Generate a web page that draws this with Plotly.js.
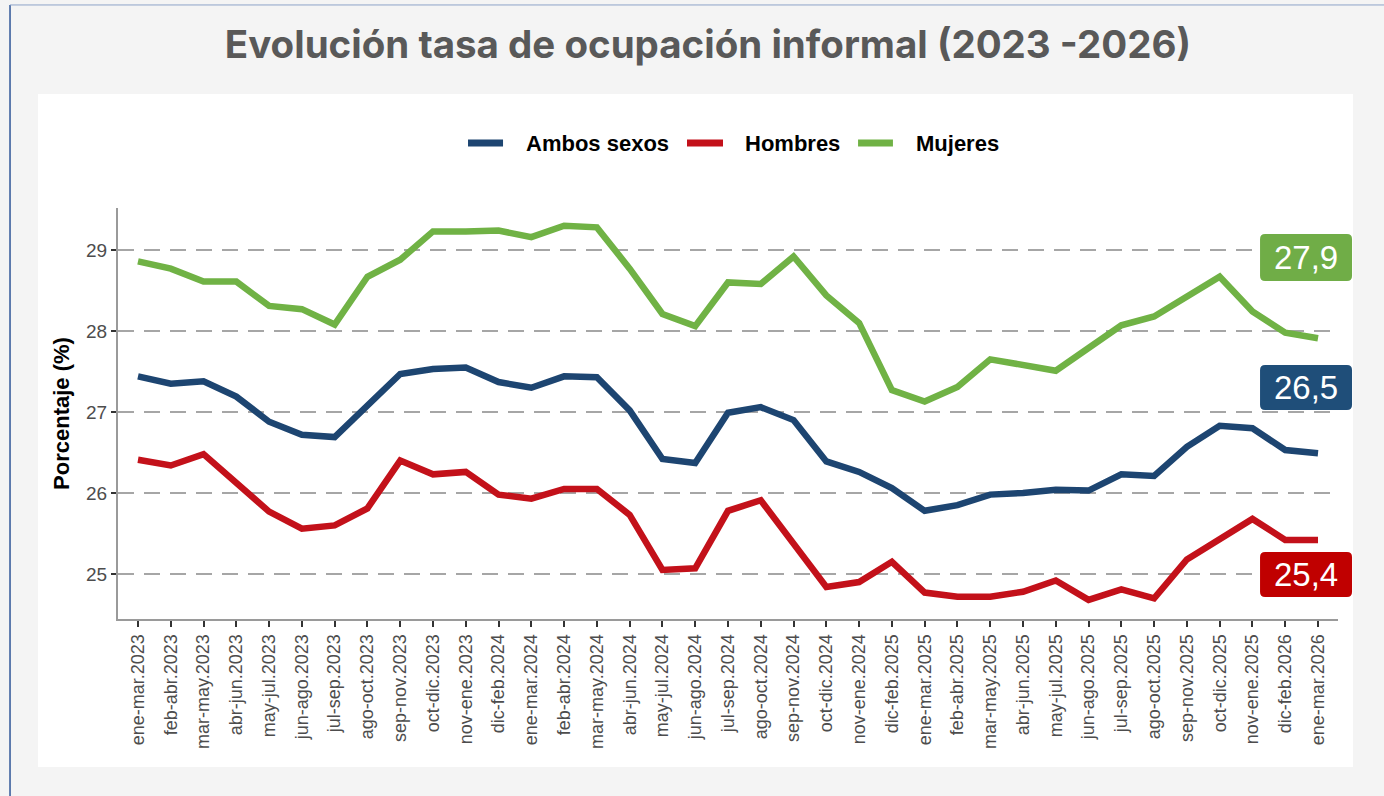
<!DOCTYPE html>
<html>
<head>
<meta charset="utf-8">
<script src="https://cdn.plot.ly/plotly-3.0.1.min.js"></script>
<style>
  html, body { margin: 0; padding: 0; background: #f4f4f4; }
  #chart { width: 1384px; height: 796px; }
</style>
</head>
<body>
<div id="chart"></div>
<script>
const periods = [
  "ene-mar.2023","feb-abr.2023","mar-may.2023","abr-jun.2023","may-jul.2023","jun-ago.2023",
  "jul-sep.2023","ago-oct.2023","sep-nov.2023","oct-dic.2023","nov-ene.2023","dic-feb.2024",
  "ene-mar.2024","feb-abr.2024","mar-may.2024","abr-jun.2024","may-jul.2024","jun-ago.2024",
  "jul-sep.2024","ago-oct.2024","sep-nov.2024","oct-dic.2024","nov-ene.2024","dic-feb.2025",
  "ene-mar.2025","feb-abr.2025","mar-may.2025","abr-jun.2025","may-jul.2025","jun-ago.2025",
  "jul-sep.2025","ago-oct.2025","sep-nov.2025","oct-dic.2025","nov-ene.2025","dic-feb.2026",
  "ene-mar.2026"
];

const ambosSexos = [
  27.44,27.35,27.38,27.19,26.88,26.72,26.69,27.09,27.47,27.53,27.55,27.37,
  27.30,27.44,27.43,27.02,26.42,26.37,26.99,27.06,26.90,26.39,26.26,26.06,
  25.78,25.85,25.98,26.00,26.04,26.03,26.23,26.21,26.57,26.83,26.80,26.53,
  26.49
];

const hombres = [
  26.41,26.34,26.48,26.12,25.77,25.56,25.60,25.81,26.40,26.23,26.26,25.98,
  25.93,26.05,26.05,25.73,25.05,25.07,25.78,25.91,25.38,24.84,24.90,25.15,
  24.77,24.72,24.72,24.78,24.92,24.68,24.81,24.70,25.18,25.42,25.68,25.42,
  25.42
];

const mujeres = [
  28.86,28.77,28.61,28.61,28.31,28.27,28.08,28.67,28.88,29.23,29.23,29.24,
  29.16,29.30,29.28,28.77,28.21,28.06,28.60,28.58,28.92,28.44,28.10,27.27,
  27.13,27.31,27.65,27.58,27.51,27.79,28.07,28.18,28.42,28.67,28.24,27.98,
  27.91
];

const seriesNames = ["Ambos sexos", "Hombres", "Mujeres"];
const seriesColors = ["#1d4571", "#c3111a", "#70b245"];
const labelColors = ["#1f4e79", "#c00000", "#70ad47"];
const yTicks = [25, 26, 27, 28, 29];

const allSeries = [ambosSexos, hombres, mujeres];

const traces = allSeries.map((vals, k) => ({
  type: "scatter",
  mode: "lines",
  name: seriesNames[k],
  x: periods,
  y: vals,
  line: { color: seriesColors[k], width: 6.5 },
  showlegend: false,
  hoverinfo: "x+y+name"
}));

function fmt(v) { return v.toFixed(1).replace(".", ","); }

// ---- layout helpers (paper coordinates) ----
const tickFont = "Liberation Sans, Arial, sans-serif";

// manual legend: swatch [x0,x1], text left x, all at legend y
const legY = 1.158;
const legSw = [[0.2869, 0.3156], [0.4664, 0.4959], [0.6066, 0.6352]];
const legTx = [0.3328, 0.5123, 0.6525];

// end-label boxes: [y0, y1] in paper coords
const boxX = [0.9361, 1.0115];
const boxY = [[0.5085, 0.6180], [0.0535, 0.1630], [0.8224, 0.9367]];
const rx = 5 / 1220, ry = 5 / 411;

function roundRect(x0, x1, y0, y1) {
  return `M${x0 + rx},${y0} L${x1 - rx},${y0} Q${x1},${y0} ${x1},${y0 + ry} ` +
         `L${x1},${y1 - ry} Q${x1},${y1} ${x1 - rx},${y1} L${x0 + rx},${y1} ` +
         `Q${x0},${y1} ${x0},${y1 - ry} L${x0},${y0 + ry} Q${x0},${y0} ${x0 + rx},${y0} Z`;
}

const shapes = [
  // white panel
  { type: "rect", xref: "paper", yref: "paper", layer: "below",
    x0: -0.0656, x1: 1.0123, y0: -0.360, y1: 1.2774,
    fillcolor: "#ffffff", line: { width: 0 } },
  // left border line
  { type: "line", xref: "paper", yref: "paper", layer: "below",
    x0: -0.0885, x1: -0.0885, y0: -0.45, y1: 1.494,
    line: { color: "#2f5597", width: 1.5 } },
  // top border line
  { type: "line", xref: "paper", yref: "paper", layer: "below",
    x0: -0.0885, x1: 1.05, y0: 1.494, y1: 1.494,
    line: { color: "#8ea3c8", width: 1 } }
];

const annotations = [];

allSeries.forEach((vals, k) => {
  // legend swatch + text
  shapes.push({ type: "line", xref: "paper", yref: "paper",
    x0: legSw[k][0], x1: legSw[k][1], y0: legY, y1: legY,
    line: { color: seriesColors[k], width: 7 } });
  annotations.push({ xref: "paper", yref: "paper", x: legTx[k], y: legY,
    xanchor: "left", yanchor: "middle", showarrow: false,
    text: "<b>" + seriesNames[k] + "</b>",
    font: { family: tickFont, size: 22, color: "#000000" } });
  // end label box
  shapes.push({ type: "path", xref: "paper", yref: "paper",
    path: roundRect(boxX[0], boxX[1], boxY[k][0], boxY[k][1]),
    fillcolor: labelColors[k], line: { width: 0 } });
  annotations.push({ xref: "paper", yref: "paper",
    x: (boxX[0] + boxX[1]) / 2, y: (boxY[k][0] + boxY[k][1]) / 2,
    xanchor: "center", yanchor: "middle", showarrow: false,
    text: fmt(vals[vals.length - 1]),
    font: { family: tickFont, size: 33, color: "#ffffff" } });
});

const layout = {
  width: 1384,
  height: 796,
  margin: { l: 118, r: 46, t: 208, b: 177, pad: 0 },
  paper_bgcolor: "#f4f4f4",
  plot_bgcolor: "rgba(0,0,0,0)",
  title: {
    text: "<b>Evolución tasa de ocupación informal (2023 -2026)</b>",
    font: { family: "Inter, Open Sans, sans-serif", size: 38.5, color: "#595959" },
    x: 0.5115, xanchor: "center",
    y: 0.9435, yanchor: "middle"
  },
  showlegend: false,
  xaxis: {
    type: "category",
    range: [-0.61, 36.61],
    showgrid: false,
    zeroline: false,
    showline: true,
    linecolor: "#9a9a9a",
    linewidth: 2,
    ticks: "outside",
    ticklen: 6,
    tickwidth: 2,
    tickcolor: "#333333",
    tickangle: -90,
    tickfont: { family: tickFont, size: 18, color: "#4d4d4d" },
    fixedrange: true
  },
  yaxis: {
    range: [24.444, 29.519],
    tickvals: yTicks,
    ticktext: yTicks.map(String),
    showgrid: true,
    gridcolor: "#a6a6a6",
    gridwidth: 2,
    griddash: "16px,10px",
    zeroline: false,
    showline: true,
    linecolor: "#9a9a9a",
    linewidth: 2,
    ticks: "outside",
    ticklen: 5,
    tickwidth: 2,
    tickcolor: "#333333",
    tickfont: { family: tickFont, size: 19, color: "#4d4d4d" },
    title: {
      text: "<b>Porcentaje (%)</b>",
      font: { family: tickFont, size: 22, color: "#000000" },
      standoff: 10
    },
    fixedrange: true
  },
  shapes: shapes,
  annotations: annotations
};

Plotly.newPlot("chart", traces, layout, { displayModeBar: false, staticPlot: true });
</script>
</body>
</html>
